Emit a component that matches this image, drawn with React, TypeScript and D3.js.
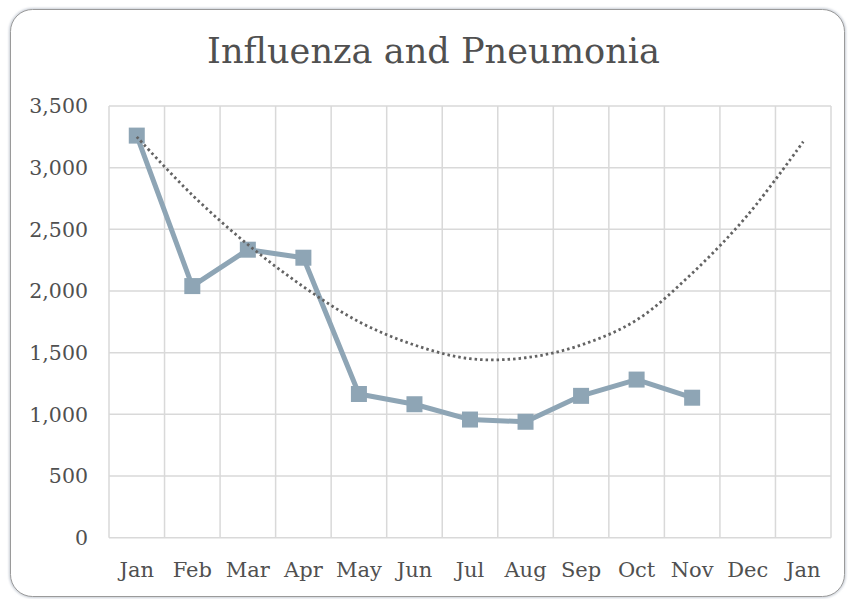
import React from "react";
import * as d3 from "d3";

const months = ["Jan", "Feb", "Mar", "Apr", "May", "Jun", "Jul", "Aug", "Sep", "Oct", "Nov", "Dec", "Jan"];
const deaths = [3260, 2040, 2335, 2270, 1165, 1082, 958, 940, 1150, 1282, 1135];
const trend = [3250, 2778, 2377, 2035, 1751, 1562, 1451, 1459, 1562, 1765, 2144, 2616, 3211];
const yTicks = [0, 500, 1000, 1500, 2000, 2500, 3000, 3500];
const title = "Influenza and Pneumonia";

const W = 848, H = 599;
const plot = { left: 109, right: 831, top: 106, bottom: 537.7 };

export default function App() {
  const idx = months.map((_, i) => i);
  const x = d3.scaleBand<number>().domain(idx).range([plot.left, plot.right]);
  const y = d3.scaleLinear().domain([0, 3500]).range([plot.bottom, plot.top]);
  const cx = (i: number) => (x(i) as number) + x.bandwidth() / 2;

  const line = d3.line<number>().x((_, i) => cx(i)).y((d) => y(d));
  const tline = d3.line<number>().x((_, i) => cx(i)).y((d) => y(d)).curve(d3.curveCatmullRom.alpha(0.5));

  const textColor = "#505050";
  const font = "'DejaVu Serif', serif";
  const color = "#8EA5B5";

  return (
    <svg width={W} height={H} style={{ position: "absolute", left: 0, top: 0 }}>
      <defs>
        <filter id="sh" x="-5%" y="-5%" width="110%" height="110%">
          <feGaussianBlur stdDeviation="1.2" />
        </filter>
      </defs>
      <rect x={0} y={0} width={W} height={H} fill="#fff" />
      <rect x={10.5} y={9.5} width={834} height={587} rx={22} fill="none" stroke="#c8ced6" strokeWidth={3} filter="url(#sh)" />
      <rect x={10.5} y={9.5} width={834} height={587} rx={22} fill="#fff" stroke="#9a9a9a" strokeWidth={1} />

      <text x={433.5} y={63} textAnchor="middle" fontFamily={font} fontSize={36} fill={textColor}
        textLength={453} lengthAdjust="spacingAndGlyphs">{title}</text>

      {yTicks.map((t) => (
        <line key={"h" + t} x1={plot.left} x2={plot.right} y1={y(t)} y2={y(t)} stroke="#d9d9d9" strokeWidth={1.5} />
      ))}
      {d3.range(months.length + 1).map((i) => {
        const xx = plot.left + i * x.step();
        return <line key={"v" + i} x1={xx} x2={xx} y1={plot.top} y2={plot.bottom} stroke="#d9d9d9" strokeWidth={1.5} />;
      })}

      {yTicks.map((t) => (
        <text key={"yl" + t} x={88} y={y(t)} dy="0.35em" textAnchor="end" fontFamily={font} fontSize={20.5} fill={textColor}>
          {d3.format(",")(t)}
        </text>
      ))}
      {months.map((m, i) => (
        <text key={"xl" + i} x={cx(i)} y={577} textAnchor="middle" fontFamily={font} fontSize={21} fill={textColor}>
          {m}
        </text>
      ))}

      <path d={line(deaths) || ""} fill="none" stroke={color} strokeWidth={5} strokeLinejoin="round" />
      {deaths.map((d, i) => (
        <rect key={"m" + i} x={cx(i) - 8} y={y(d) - 8} width={16} height={16} fill={color} />
      ))}

      <path d={tline(trend) || ""} fill="none" stroke="#636363" strokeWidth={2.8} strokeDasharray="2.5 3" />
    </svg>
  );
}
